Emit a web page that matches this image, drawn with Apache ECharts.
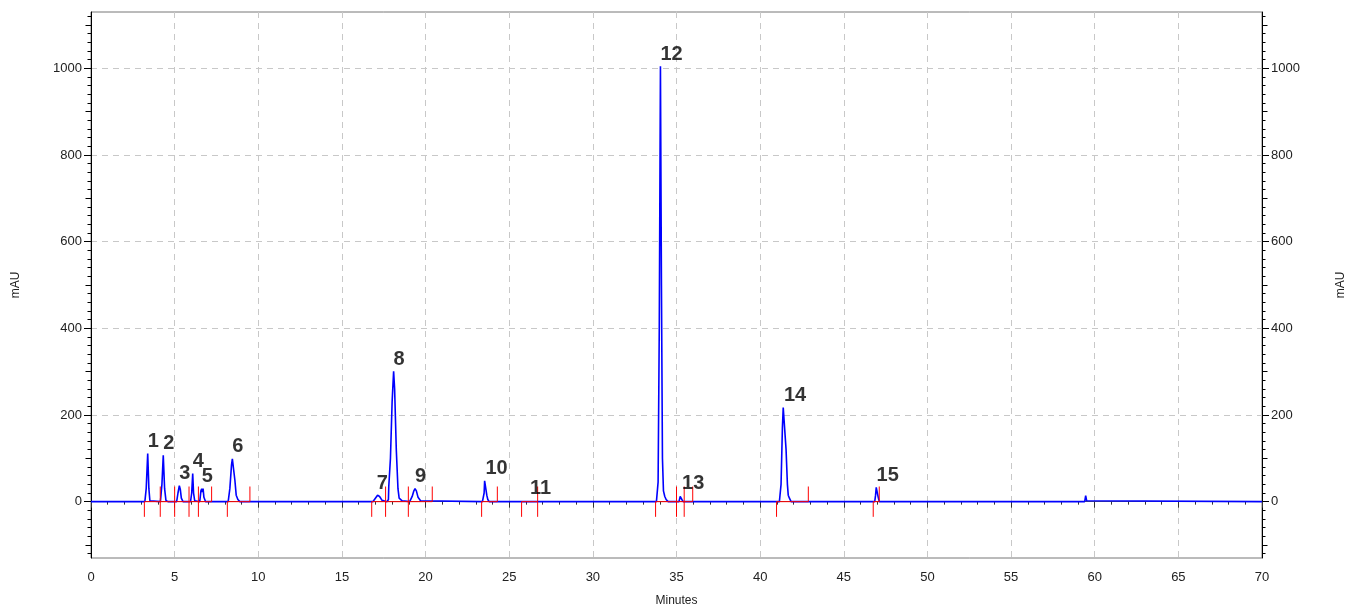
<!DOCTYPE html>
<html><head><meta charset="utf-8">
<script src="https://cdn.jsdelivr.net/npm/echarts@6/dist/echarts.min.js"></script>
<style>html,body{margin:0;padding:0;background:#fff}#c{width:1358px;height:608px}</style>
</head><body><div id="c"></div>
<script>
// ---- data ----
const trace = [
  [0,0],
  [3.22,0],[3.30,30],[3.39,111],[3.46,30],[3.52,2],[3.60,0],
  [4.15,0],[4.24,40],[4.32,107],[4.40,30],[4.48,3],[4.60,0],
  [5.12,0],[5.20,20],[5.28,37],[5.34,28],[5.40,8],[5.50,0],
  [5.95,0],[6.02,20],[6.08,65],[6.13,20],[6.20,2],[6.30,0],
  [6.50,0],[6.57,25],[6.62,30],[6.66,22],[6.70,30],[6.75,10],[6.85,0],
  [8.20,0],[8.30,30],[8.40,85],[8.45,99],[8.52,97],[8.60,50],[8.68,15],[8.78,5],[8.90,0],
  [16.85,0],[17.00,8],[17.13,15],[17.25,12],[17.40,3],[17.50,0],
  [17.70,0],[17.78,5],[17.80,35],[17.90,100],[18.00,230],[18.09,301],[18.15,260],[18.25,120],[18.35,30],[18.42,8],[18.50,5],[18.60,2],[18.70,0],
  [19.05,0],[19.20,12],[19.30,25],[19.37,30],[19.45,25],[19.55,10],[19.70,2],[19.80,0],
  [23.40,0],[23.50,20],[23.53,48],[23.62,48],[23.66,15],[23.72,5],[23.80,0],
  [33.80,0],[33.90,45],[33.97,400],[34.04,1005],[34.10,500],[34.16,100],[34.22,25],[34.30,12],[34.38,5],[34.50,0],
  [35.15,0],[35.22,12],[35.27,15],[35.32,5],[35.40,0],
  [41.15,0],[41.25,40],[41.33,170],[41.38,217],[41.48,217],[41.55,120],[41.63,40],[41.68,15],[41.75,8],[41.85,0],
  [46.85,0],[46.90,15],[46.94,33],[47.02,33],[47.06,10],[47.12,0],
  [59.40,0],[59.46,14],[59.52,2],[59.60,0],
  [70,0]
];
const peakStartMarks = [3.19,4.14,5.0,5.86,6.42,8.15,16.78,17.61,18.97,23.35,25.74,26.70,33.75,35.0,35.46,40.98,46.76];
const peakEndMarks   = [4.14,5.0,5.86,6.42,7.21,9.5,17.61,18.97,20.4,24.29,26.70,35.0,35.46,35.97,42.88,47.12];
const baselineSegments = [[3.19,7.21],[8.15,9.5],[16.78,20.4],[23.35,24.29],[25.74,26.70],[33.75,35.97],[40.98,42.88],[46.76,47.12]];
const peakNames  = ['1','2','3','4','5','6','7','8','9','10','11','12','13','14','15'];
const peakLabelTimes  = [3.39,4.32,5.28,6.08,6.62,8.45,17.08,18.09,19.37,23.58,26.24,34.04,35.33,41.42,46.96];
const peakLabelValues = [111,107,37,65,30,99,15,301,30,48,3,1005,15,217,33];
const yTickLabels = [0,200,400,600,800,1000];
const xName = 'Minutes';
const yName = 'mAU';

// ---- build ----
const FONT = '"Liberation Sans", Arial, sans-serif';
const Y_MIN = -130, Y_MAX = 1130;
const MARK_LEN = 35;
const minor20 = []; for (let v = -120; v <= 1120; v += 20) minor20.push(v);
const mid100 = []; for (let v = -100; v <= 1100; v += 100) mid100.push(v);

function markData(list, dir) {
  const d = [];
  list.forEach(t => { d.push([t, 0]); d.push([t, dir * MARK_LEN]); d.push([t, '-']); });
  return d;
}
const segData = [];
baselineSegments.forEach(s => { segData.push([s[0], 0]); segData.push([s[1], 0]); segData.push([s[1], '-']); });

function yAx(pos, vals, len, main) {
  return {
    type: 'value', position: pos, min: Y_MIN, max: Y_MAX,
    axisLine: { show: main, lineStyle: { color: '#000', width: 1 } },
    axisTick: { show: true, length: len, customValues: vals, lineStyle: { color: '#000', width: 1 } },
    axisLabel: main ? { show: true, customValues: vals, margin: 9, color: '#222', fontSize: 13, fontFamily: FONT,
                        formatter: v => String(v) } : { show: false },
    splitLine: (main && pos === 'left') ? { show: true, lineStyle: { type: [6, 5], color: '#c8c8c8', width: 1 } } : { show: false },
    name: main ? yName : '', nameLocation: 'middle', nameRotate: 90, nameGap: pos === 'left' ? 69 : 73,
    nameTextStyle: { color: '#222', fontSize: 12, fontFamily: FONT }
  };
}

const chart = echarts.init(document.getElementById('c'), null, { renderer: 'canvas' });
chart.setOption({
  animation: false,
  backgroundColor: '#fff',
  grid: { left: 91, right: 96, top: 12, bottom: 50, show: true, borderColor: '#777', borderWidth: 1,
          containLabel: false, outerBoundsMode: 'none' },
  xAxis: {
    type: 'value', min: 0, max: 70, interval: 5,
    axisLine: { lineStyle: { color: '#555', width: 1 } },
    axisTick: { length: 6, lineStyle: { color: '#333' } },
    minorTick: { show: true, splitNumber: 5, length: 3, lineStyle: { color: '#333' } },
    axisLabel: { margin: 13, color: '#222', fontSize: 13, fontFamily: FONT },
    splitLine: { show: true, lineStyle: { type: [6, 5], color: '#c8c8c8', width: 1 } },
    name: xName, nameLocation: 'middle', nameGap: 37,
    nameTextStyle: { color: '#222', fontSize: 12, fontFamily: FONT }
  },
  yAxis: [
    yAx('left', yTickLabels, 7, true),
    yAx('left', minor20, 3.5, false),
    yAx('left', mid100, 5.5, false),
    yAx('right', yTickLabels, 7, true),
    yAx('right', minor20, 3.5, false),
    yAx('right', mid100, 5.5, false)
  ],
  series: [
    { type: 'line', data: trace, yAxisIndex: 0, showSymbol: false, symbol: 'none', z: 3,
      lineStyle: { color: '#0000ff', width: 1.6 }, silent: true },
    { type: 'line', data: segData, yAxisIndex: 0, showSymbol: false, symbol: 'none', z: 4,
      lineStyle: { color: '#ff0000', width: 1 }, silent: true },
    { type: 'line', data: markData(peakStartMarks, -1), yAxisIndex: 0, showSymbol: false, symbol: 'none', z: 4,
      lineStyle: { color: '#ff0000', width: 1 }, silent: true },
    { type: 'line', data: markData(peakEndMarks, 1), yAxisIndex: 0, showSymbol: false, symbol: 'none', z: 4,
      lineStyle: { color: '#ff0000', width: 1 }, silent: true },
    { type: 'scatter', yAxisIndex: 0, symbolSize: 0, z: 5, silent: true,
      data: peakNames.map((n, i) => ({ name: n, value: [peakLabelTimes[i], peakLabelValues[i]] })),
      label: { show: true, position: 'top', align: 'left', distance: 2, formatter: p => p.name,
               color: '#000', fontSize: 20, fontWeight: 'bold', fontFamily: FONT } }
  ]
});
</script></body></html>
